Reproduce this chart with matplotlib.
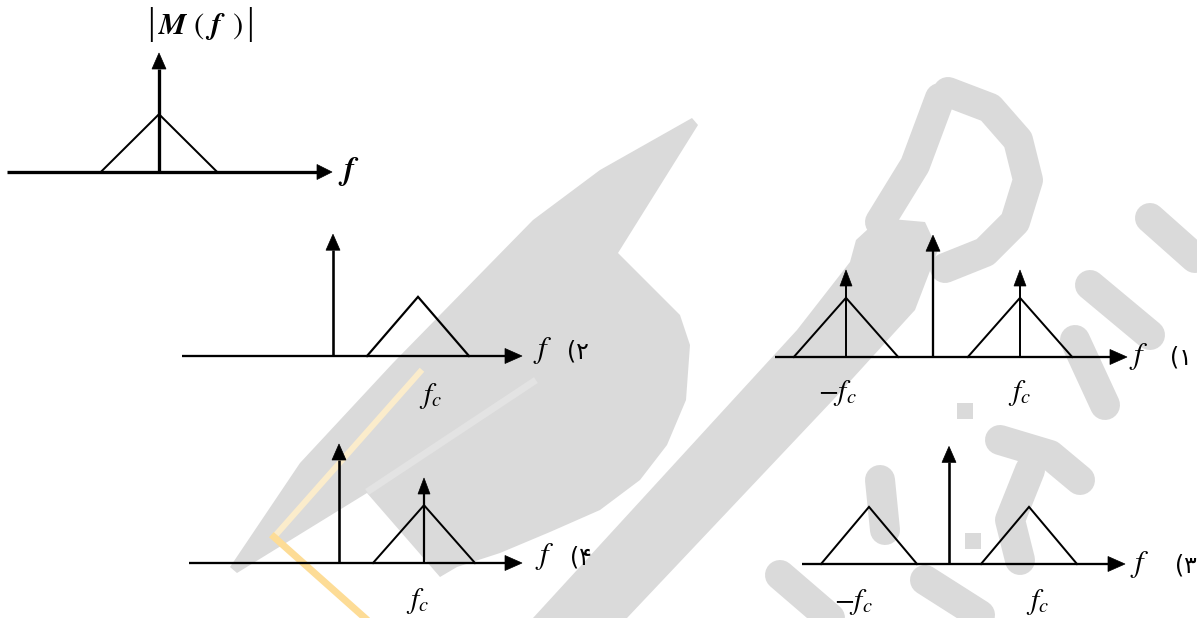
import matplotlib
matplotlib.use("Agg")
import matplotlib.pyplot as plt
from matplotlib.patches import Polygon

plt.rcParams['mathtext.fontset'] = 'stix'

# ------------------------------------------------------------------ data
FC = 1.0          # carrier frequency (unit)
BW = 0.6          # message bandwidth (relative to fc)
TRI_H = 0.68      # height of the triangular spectrum
CARRIER_H = 1.4   # height of carrier impulse
SIDE_H = 1.0      # height of impulse at +-fc

msg_triangles = [0.0]
msg_impulse_f = [0.0]
msg_impulse_h = [CARRIER_H]

p1_triangles = [-FC, FC]
p1_impulse_f = [-FC, 0.0, FC]
p1_impulse_h = [SIDE_H, CARRIER_H, SIDE_H]
p1_labels = [r'$-f_c$', r'$f_c$']

p2_triangles = [FC]
p2_impulse_f = [0.0]
p2_impulse_h = [CARRIER_H]
p2_labels = [r'$f_c$']

p3_triangles = [-FC, FC]
p3_impulse_f = [0.0]
p3_impulse_h = [CARRIER_H]
p3_labels = [r'$-f_c$', r'$f_c$']

p4_triangles = [FC]
p4_impulse_f = [0.0, FC]
p4_impulse_h = [CARRIER_H, SIDE_H]
p4_labels = [r'$f_c$']

option_labels = ['(۱', '(۲', '(۳', '(۴']
msg_title = r'$\boldsymbol{M}\ (\ \boldsymbol{f}\ \,)$'

# ---------------------------------------------------------------- layout
W, H = 1197, 618
PX = 0.72  # points per pixel at dpi 100

# x0/y0: pixel of f=0 on the axis; sx/sy: pixels per unit
panels = [
    dict(tri=msg_triangles, imp_f=msg_impulse_f, imp_h=msg_impulse_h, labels=[],
         x0=159, y0=172, sx=97, sy=85, xl=7, xr=332,
         lw_axis=3.3, lw_imp=3.3, lw_tri=2.0, ahead=(15, 15), label_dx=[], label_dy=0),
    dict(tri=p1_triangles, imp_f=p1_impulse_f, imp_h=p1_impulse_h, labels=p1_labels,
         x0=933, y0=357, sx=87, sy=87, xl=775, xr=1127,
         lw_axis=2.3, lw_imp=2.3, lw_tri=2.0, ahead=(17, 15), label_dx=[-9, 0], label_dy=36),
    dict(tri=p2_triangles, imp_f=p2_impulse_f, imp_h=p2_impulse_h, labels=p2_labels,
         x0=333, y0=356, sx=85, sy=87, xl=182, xr=522,
         lw_axis=2.3, lw_imp=2.6, lw_tri=2.2, ahead=(17, 15), label_dx=[13], label_dy=40),
    dict(tri=p3_triangles, imp_f=p3_impulse_f, imp_h=p3_impulse_h, labels=p3_labels,
         x0=949, y0=564, sx=80, sy=84, xl=802, xr=1125,
         lw_axis=2.3, lw_imp=2.6, lw_tri=2.0, ahead=(17, 15), label_dx=[-16, 9], label_dy=38),
    dict(tri=p4_triangles, imp_f=p4_impulse_f, imp_h=p4_impulse_h, labels=p4_labels,
         x0=339, y0=563, sx=85, sy=85, xl=189, xr=522,
         lw_axis=2.3, lw_imp=2.6, lw_tri=2.0, ahead=(17, 15), label_dx=[-6], label_dy=38),
]

# f-label and option label centres (pixels)
f_label_pos = [(349, 172), (1139, 357), (543, 350), (1140, 565), (545, 557)]
opt_label_pos = [(1181, 357), (578, 352), (1186, 565), (581, 557)]
title_pos = (200, 25)
title_bars_x = (151, 250)

WM = '#dadada'
wm_cap = [(692, 118), (698, 125), (618, 253), (680, 315), (690, 345), (686, 400),
          (667, 445), (640, 480), (600, 510), (550, 532), (500, 553), (457, 567),
          (440, 577), (367, 493), (237, 573), (230, 567), (300, 463), (393, 363),
          (533, 220), (600, 170)]
wm_band = [(533, 618), (627, 618), (833, 400), (915, 310), (938, 250), (925, 222),
           (880, 218), (856, 240), (850, 262), (797, 330)]
wm_strokes = [
    [(940, 98), (915, 165), (880, 222)],
    [(948, 92), (990, 108), (1018, 140), (1028, 180), (1015, 222), (985, 252), (945, 268)],
    [(1150, 218), (1195, 258)],
    [(1090, 285), (1150, 335)],
    [(1075, 340), (1105, 405)],
    [(1000, 440), (1050, 455), (1080, 480)],
    [(1030, 470), (1010, 520), (1020, 560)],
    [(780, 575), (830, 618)],
    [(880, 480), (885, 530)],
    [(925, 580), (980, 615)],
]
wm_squares = [(965, 411), (973, 541)]
wm_yellow_up = [(420, 372), (274, 537)]
wm_yellow_low = [(274, 537), (365, 618)]
wm_light = [(370, 490), (533, 382)]

# ------------------------------------------------------------------ figure
fig = plt.figure(figsize=(W / 100, H / 100), dpi=100)
fig.patch.set_facecolor('white')

bg = fig.add_axes([0, 0, 1, 1])
bg.set_xlim(0, W)
bg.set_ylim(H, 0)
bg.axis('off')

# watermark (decoration)
bg.add_patch(Polygon(wm_cap, closed=True, fc=WM, ec='none', zorder=0))
bg.add_patch(Polygon(wm_band, closed=True, fc=WM, ec='none', zorder=0))
for s in wm_strokes:
    xs, ys = zip(*s)
    bg.plot(xs, ys, color=WM, lw=30 * PX, solid_capstyle='round',
            solid_joinstyle='round', zorder=0)
for (sx_, sy_) in wm_squares:
    bg.add_patch(Polygon([(sx_ - 8, sy_ - 8), (sx_ + 8, sy_ - 8), (sx_ + 8, sy_ + 8),
                          (sx_ - 8, sy_ + 8)], closed=True, fc=WM, ec='none', zorder=0))
xs, ys = zip(*wm_yellow_up)
bg.plot(xs, ys, color='#fbeccb', lw=6 * PX, zorder=0.5)
xs, ys = zip(*wm_yellow_low)
bg.plot(xs, ys, color='#fddc96', lw=7 * PX, zorder=0.5)
xs, ys = zip(*wm_light)
bg.plot(xs, ys, color='#e3e3e3', lw=7 * PX, zorder=0.4)


def panel_axes(p):
    top, bot = p['y0'] - 150, p['y0'] + 10
    rect = [p['xl'] / W, (H - bot) / H, (p['xr'] - p['xl']) / W, (bot - top) / H]
    ax = fig.add_axes(rect)
    ax.set_xlim((p['xl'] - p['x0']) / p['sx'], (p['xr'] - p['x0']) / p['sx'])
    ax.set_ylim((p['y0'] - bot) / p['sy'], (p['y0'] - top) / p['sy'])
    ax.axis('off')
    ax.patch.set_alpha(0)
    return ax


for p in panels:
    ax = panel_axes(p)
    sx, sy = p['sx'], p['sy']
    hl, hw = p['ahead']
    x_lo, x_hi = ax.get_xlim()
    # frequency axis with arrow
    ax.plot([x_lo, x_hi - hl / sx], [0, 0], color='black', lw=p['lw_axis'] * PX,
            solid_capstyle='butt', clip_on=False, zorder=3)
    ax.add_patch(Polygon([(x_hi - hl / sx, -hw / 2 / sy), (x_hi - hl / sx, hw / 2 / sy),
                          (x_hi, 0)], closed=True, fc='black', ec='black', lw=0.5,
                         clip_on=False, zorder=3))
    # triangular spectra
    for c in p['tri']:
        ax.plot([c - BW, c, c + BW], [0, TRI_H, 0], color='black', lw=p['lw_tri'] * PX,
                solid_joinstyle='miter', clip_on=False, zorder=3)
    # impulses
    for f, h in zip(p['imp_f'], p['imp_h']):
        ihl, ihw = (16, 14) if h == CARRIER_H else (16, 12)
        lw = p['lw_imp'] if h == CARRIER_H else p['lw_imp'] * 0.85
        ax.plot([f, f], [0, h - ihl / sy], color='black', lw=lw * PX,
                solid_capstyle='butt', clip_on=False, zorder=3)
        ax.add_patch(Polygon([(f - ihw / 2 / sx, h - ihl / sy), (f + ihw / 2 / sx, h - ihl / sy),
                              (f, h)], closed=True, fc='black', ec='black', lw=0.5,
                             clip_on=False, zorder=3))
    # fc labels
    centres = sorted(set(p['tri']))
    for lab, c, dx in zip(p['labels'], centres, p['label_dx']):
        ax.annotate(lab, xy=(c, 0), xytext=(dx, -p['label_dy']), textcoords='offset pixels',
                    ha='center', va='center', fontsize=21, color='black', zorder=4)

# texts in pixel space
bg.text(title_pos[0], title_pos[1] + 1, msg_title, ha='center', va='center',
        fontsize=22, color='black')
for bx in title_bars_x:
    bg.text(bx, title_pos[1], '|', ha='center', va='center', fontsize=27,
            family=['Liberation Serif'], color='black')
for i, (x, y) in enumerate(f_label_pos):
    lab = r'$\boldsymbol{f}$' if i == 0 else r'$f$'
    bg.text(x, y, lab, ha='center', va='center', fontsize=23 if i == 0 else 22,
            color='black')
for lab, (x, y) in zip(option_labels, opt_label_pos):
    bg.text(x, y, lab, ha='center', va='center', fontsize=17, color='black',
            family=['DejaVu Sans'])

fig.savefig('out.png', dpi=100, facecolor='white')
